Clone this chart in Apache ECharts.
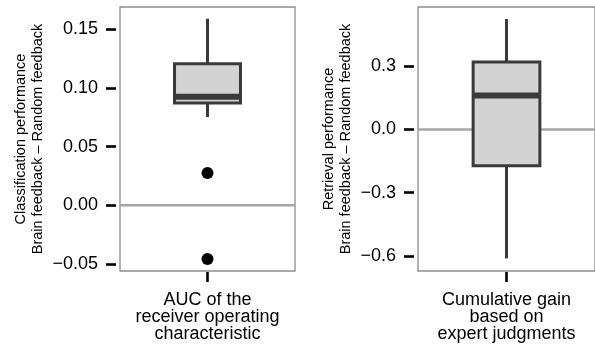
<!DOCTYPE html>
<html>
<head>
<meta charset="utf-8">
<script src="https://cdn.jsdelivr.net/npm/echarts@6/dist/echarts.min.js"></script>
<style>
  html, body { margin: 0; padding: 0; background: #fff; }
  #chart { width: 595px; height: 349px; }
</style>
</head>
<body>
<div id="chart"></div>
<script>
// left panel: classification performance (AUC)
const leftCategory = ['AUC of the\nreceiver operating\ncharacteristic'];
const aucBox = [0.0752, 0.0871, 0.0925, 0.1206, 0.159]; // min, Q1, median, Q3, max
const aucOutliers = [0.0275, -0.0457];
const leftTicks = [-0.05, 0, 0.05, 0.1, 0.15];

// right panel: retrieval performance (cumulative gain)
const rightCategory = ['Cumulative gain\nbased on\nexpert judgments'];
const gainBox = [-0.611, -0.172, 0.161, 0.319, 0.523];
const rightTicks = [-0.6, -0.3, 0, 0.3];

const FONT = 'Liberation Sans, Arial, Helvetica, sans-serif';

// draws box, whiskers, thick median and the zero reference line
function renderBox (params, api) {
  const cs = params.coordSys;
  const cat = api.value(0);
  const x = api.coord([cat, 0])[0];
  const half = api.size([1, 0])[0] * 0.377 / 2;
  const y = i => api.coord([cat, api.value(i)])[1];
  const y0 = api.coord([cat, 0])[1];
  const dark = '#3a3a3a';
  return {
    type: 'group',
    children: [
      { type: 'line', shape: { x1: cs.x, y1: y0, x2: cs.x + cs.width, y2: y0 },
        style: { stroke: '#a6a6a6', lineWidth: 2.5 } },
      { type: 'line', shape: { x1: x, y1: y(4), x2: x, y2: y(5) },
        style: { stroke: dark, lineWidth: 3 } },
      { type: 'line', shape: { x1: x, y1: y(1), x2: x, y2: y(2) },
        style: { stroke: dark, lineWidth: 3 } },
      { type: 'rect', shape: { x: x - half, y: y(4), width: half * 2, height: y(2) - y(4) },
        style: { fill: '#d3d3d3', stroke: dark, lineWidth: 3 } },
      { type: 'line', shape: { x1: x - half, y1: y(3), x2: x + half, y2: y(3) },
        style: { stroke: dark, lineWidth: 6 } }
    ]
  }
}

function yAxisFor (gridIndex, lo, hi, ticks, digits, name, gap) {
  return {
    gridIndex: gridIndex,
    type: 'value',
    min: lo,
    max: hi,
    offset: 4,
    axisLine: { show: false, onZero: false },
    splitLine: { show: false },
    axisTick: { show: true, length: 10, customValues: ticks,
      lineStyle: { color: '#000', width: 2.6 } },
    axisLabel: { customValues: ticks, margin: 18, color: '#000', fontSize: 18, fontFamily: FONT,
      formatter: v => (v < 0 ? '\u2212' : '') + Math.abs(v).toFixed(digits) },
    name: name,
    nameLocation: 'middle',
    nameGap: gap,
    nameTextStyle: { color: '#000', fontSize: 14.5, lineHeight: 17, fontFamily: FONT }
  }
}

function xAxisFor (gridIndex, cats) {
  return {
    gridIndex: gridIndex,
    type: 'category',
    position: 'bottom',
    data: cats,
    offset: 1,
    axisLine: { show: false, onZero: false },
    axisTick: { show: true, alignWithLabel: true, length: 10,
      lineStyle: { color: '#000', width: 2.6 } },
    axisLabel: { margin: 20, color: '#000', fontSize: 18, lineHeight: 17, fontFamily: FONT }
  }
}

const option = {
  animation: false,
  backgroundColor: '#fff',
  grid: [
    { left: 120, top: 7, width: 175, height: 264, show: true, borderColor: '#8c8c8c', borderWidth: 1.3 },
    { left: 418, top: 7, width: 186, height: 264, show: true, borderColor: '#8c8c8c', borderWidth: 1.3 }
  ],
  xAxis: [
    xAxisFor(0, leftCategory),
    xAxisFor(1, rightCategory)
  ],
  yAxis: [
    yAxisFor(0, -0.056, 0.169, leftTicks, 2, 'Classification performance\nBrain feedback \u2013 Random feedback', 70),
    yAxisFor(1, -0.671, 0.58, rightTicks, 1, 'Retrieval performance\nBrain feedback \u2013 Random feedback', 60)
  ],
  series: [
    {
      type: 'custom',
      xAxisIndex: 0, yAxisIndex: 0,
      renderItem: renderBox,
      encode: { x: 0, y: [1, 2, 3, 4, 5] },
      data: [[0].concat(aucBox)]
    },
    {
      type: 'scatter',
      xAxisIndex: 0, yAxisIndex: 0,
      symbolSize: 12,
      itemStyle: { color: '#000', opacity: 1 },
      z: 3,
      data: aucOutliers.map(v => [0, v])
    },
    {
      type: 'custom',
      xAxisIndex: 1, yAxisIndex: 1,
      renderItem: renderBox,
      encode: { x: 0, y: [1, 2, 3, 4, 5] },
      data: [[0].concat(gainBox)]
    }
  ]
}

const chart = echarts.init(document.getElementById('chart'), null, { renderer: 'canvas' })
chart.setOption(option)
</script>
</body>
</html>
